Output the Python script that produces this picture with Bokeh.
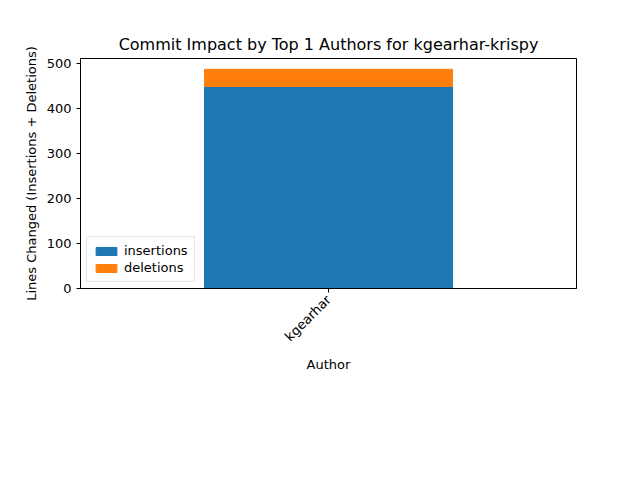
from bokeh.plotting import figure
from bokeh.models import ColumnDataSource, Range1d, FixedTicker, Legend, LegendItem
from bokeh.embed import file_html
from bokeh.resources import INLINE
import math

authors = ["kgearhar"]
insertions = [448]
deletions = [38]

x = list(range(len(authors)))
tops = [i + d for i, d in zip(insertions, deletions)]
src = ColumnDataSource(dict(x=x, ins=insertions, top=tops))

p = figure(width=624, height=464, output_backend="svg", toolbar_location=None,
           x_range=Range1d(-0.5, 0.5), y_range=Range1d(0, 510),
           min_border_left=80, min_border_right=48, min_border_top=58, min_border_bottom=176)
p.title.text = "Commit Impact by Top 1 Authors for kgearhar-krispy"
p.title.align = "center"
p.title.text_font = "DejaVu Sans"
p.title.text_font_size = "16px"
p.title.text_font_style = "normal"
p.title.text_color = "black"

r1 = p.vbar(x="x", width=0.5, bottom=0, top="ins", source=src, color="#1f77b4")
r2 = p.vbar(x="x", width=0.5, bottom="ins", top="top", source=src, color="#ff7f0e")

p.xgrid.visible = False
p.ygrid.visible = False
p.outline_line_color = "black"
p.xaxis.ticker = FixedTicker(ticks=x)
p.xaxis.major_label_overrides = {i: a for i, a in zip(x, authors)}
p.xaxis.major_label_orientation = math.pi / 4
p.yaxis.ticker = FixedTicker(ticks=[0, 100, 200, 300, 400, 500])
p.xaxis.axis_label = "Author"
p.yaxis.axis_label = "Lines Changed (Insertions + Deletions)"
for ax in (p.xaxis, p.yaxis):
    ax.axis_label_text_font = "DejaVu Sans"
    ax.axis_label_text_font_size = "13px"
    ax.axis_label_text_font_style = "normal"
    ax.axis_label_text_color = "black"
    ax.major_label_text_font = "DejaVu Sans"
    ax.major_label_text_font_size = "13px"
    ax.major_label_text_color = "black"
    ax.minor_tick_line_color = None
    ax.major_tick_in = 0
    ax.major_tick_out = 4
    ax.axis_line_color = "black"

legend = Legend(items=[LegendItem(label="insertions", renderers=[r1]),
                       LegendItem(label="deletions", renderers=[r2])],
                location="bottom_left", label_text_font="DejaVu Sans",
                label_text_font_size="13px", label_text_color="black",
                border_line_color="#cccccc",
                glyph_width=26, glyph_height=10, spacing=2, padding=6, margin=6)
p.add_layout(legend)

open("out.html", "w").write(file_html(p, INLINE))
